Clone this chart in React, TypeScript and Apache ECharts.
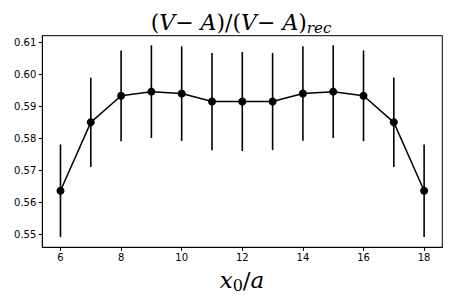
import React, { useEffect, useRef } from "react";
import * as echarts from "echarts";

const xValues = [6, 7, 8, 9, 10, 11, 12, 13, 14, 15, 16, 17, 18];
const ratio = [0.5637, 0.5851, 0.5934, 0.5947, 0.5941, 0.5916, 0.5916, 0.5916, 0.5941, 0.5947, 0.5934, 0.5851, 0.5637];
const errors = [0.0145, 0.014, 0.0142, 0.0145, 0.0148, 0.0152, 0.0155, 0.0152, 0.0148, 0.0145, 0.0142, 0.014, 0.0145];
const xTicks = [6, 8, 10, 12, 14, 16, 18];
const yTicks = [0.55, 0.56, 0.57, 0.58, 0.59, 0.6, 0.61];

export default function App() {
  const ref = useRef<HTMLDivElement>(null);
  useEffect(() => {
    document.body.style.margin = "0";
    const chart = echarts.init(ref.current!, null, { renderer: "svg" });
    const serif = "DejaVu Serif";
    chart.setOption({
      animation: false,
      backgroundColor: "#fff",
      grid: {
        left: 42.3,
        right: 14.7,
        top: 35.7,
        bottom: 57.7,
        show: true,
        borderColor: "#000",
        borderWidth: 1,
        backgroundColor: "transparent",
      },
      xAxis: {
        type: "value",
        min: 5.4,
        max: 18.6,
        splitLine: { show: false },
        axisLine: { show: true, lineStyle: { color: "#000", width: 1 } },
        axisTick: { show: true, length: 3.5, lineStyle: { color: "#000" }, customValues: xTicks },
        axisLabel: {
          customValues: xTicks,
          color: "#000",
          fontFamily: "DejaVu Sans",
          fontSize: 10,
          margin: 5,
        },
      },
      yAxis: {
        type: "value",
        min: 0.546,
        max: 0.6122,
        splitLine: { show: false },
        axisLine: { show: true, lineStyle: { color: "#000", width: 1 } },
        axisTick: { show: true, length: 3.5, lineStyle: { color: "#000" }, customValues: yTicks },
        axisLabel: {
          customValues: yTicks,
          color: "#000",
          fontFamily: "DejaVu Sans",
          fontSize: 10,
          margin: 6,
          formatter: (v: number) => v.toFixed(2),
        },
      },
      graphic: [
        {
          type: "text",
          x: 241,
          y: 35,
          style: {
            text: "{u|(}{i|V}{u|− }{i|A}{u|)/(}{i|V}{u|− }{i|A}{u|)}{s|rec}",
            textAlign: "center",
            textVerticalAlign: "bottom",
            rich: {
              u: { fontFamily: serif, fontSize: 22, fill: "#000" },
              i: { fontFamily: serif, fontSize: 22, fontStyle: "italic", fill: "#000" },
              s: { fontFamily: serif, fontSize: 15, fontStyle: "italic", fill: "#000", padding: [10, 0, 0, 0] },
            },
          },
        },
        {
          type: "text",
          x: 242,
          y: 293,
          style: {
            text: "{i|x}{s|0}{u|/}{i|a}",
            textAlign: "center",
            textVerticalAlign: "bottom",
            rich: {
              u: { fontFamily: serif, fontSize: 23, fill: "#000" },
              i: { fontFamily: serif, fontSize: 23, fontStyle: "italic", fill: "#000" },
              s: { fontFamily: serif, fontSize: 16, fill: "#000", padding: [10, 0, 0, 0] },
            },
          },
        },
      ],
      series: [
        {
          type: "custom",
          z: 2,
          renderItem: (params: any, api: any) => {
            const x = api.value(0);
            const p1 = api.coord([x, api.value(1)]);
            const p2 = api.coord([x, api.value(2)]);
            return {
              type: "line",
              shape: { x1: p1[0], y1: p1[1], x2: p2[0], y2: p2[1] },
              style: { stroke: "#000", lineWidth: 1.6 },
            };
          },
          encode: { x: 0, y: [1, 2] },
          data: xValues.map((x, i) => [x, ratio[i] - errors[i], ratio[i] + errors[i]]),
        },
        {
          type: "line",
          z: 3,
          data: xValues.map((x, i) => [x, ratio[i]]),
          symbol: "circle",
          symbolSize: 8,
          itemStyle: { color: "#000" },
          lineStyle: { color: "#000", width: 1.5 },
        },
      ],
    });
    return () => chart.dispose();
  }, []);
  return <div ref={ref} style={{ width: 457, height: 305 }} />;
}
